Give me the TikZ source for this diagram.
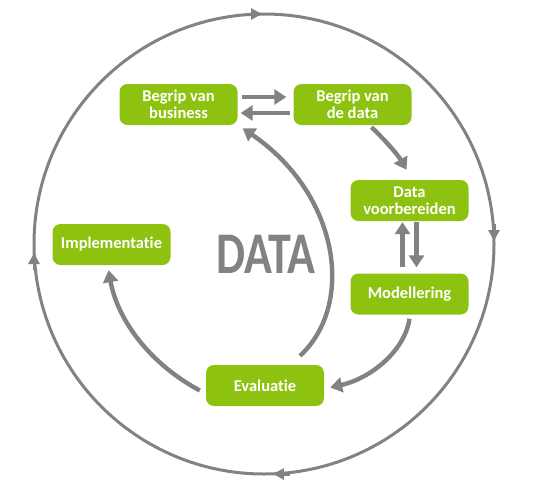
\documentclass[tikz,border=0pt]{standalone}
\usepackage{fontspec}
\usepackage{graphicx}
\setmainfont{Carlito}[Ligatures=NoCommon]
\usetikzlibrary{arrows.meta}
\definecolor{leaf}{RGB}{141,194,16}
\definecolor{arrgray}{RGB}{130,130,130}
\begin{document}
\begin{tikzpicture}[x=1pt,y=-1pt,
  phase/.style={rounded corners=8pt, fill=leaf, text=white, font=\bfseries\fontsize{16.5}{17.5}\selectfont,
    minimum width=118pt, minimum height=41pt, align=center, inner sep=0pt},
  flow/.style={draw=arrgray, line width=4.4pt, -{Triangle[length=12pt,width=15pt]}},
  ring/.style={draw=arrgray, line width=3pt},
  ringtip/.style={draw=arrgray, line width=3pt, -{Triangle[length=11pt,width=11pt]}}]
\useasboundingbox (0,0) rectangle (535,499);
% outer cycle
\draw[ring] (264,244) circle (230);
\coordinate (t1) at (246,14); \coordinate (t2) at (262,14);
\coordinate (r1) at (494,224); \coordinate (r2) at (494,241);
\coordinate (b1) at (290,474); \coordinate (b2) at (273,474);
\coordinate (l1) at (34,270); \coordinate (l2) at (34,253);
\draw[ringtip] (t1) -- (t2);
\draw[ringtip] (r1) -- (r2);
\draw[ringtip] (b1) -- (b2);
\draw[ringtip] (l1) -- (l2);
% nodes
\node[phase] (bus) at (178.5,104.5) {Begrip van\\business};
\node[phase] (dat) at (352.5,104.5) {Begrip van\\de data};
\node[phase] (prep) at (409.5,200.5) {Data\\voorbereiden};
\node[phase] (mod) at (409.5,294) {Modellering};
\node[phase] (eval) at (265,385.5) {Evaluatie};
\node[phase] (impl) at (111.5,244.5) {Implementatie};
\node[text=arrgray, font=\bfseries\fontsize{59}{60}\selectfont, inner sep=0pt] (data) at (266,254) {\scalebox{0.78}[1]{DATA}};
% connectors
\draw[flow] ([xshift=4pt,yshift=7.5pt]bus.east) -- ([xshift=-7pt,yshift=7.5pt]dat.west);
\draw[flow] ([xshift=-3pt,yshift=-8.5pt]dat.west) -- ([xshift=3pt,yshift=-8.5pt]bus.east);
\draw[flow] ([xshift=19pt,yshift=-2pt]dat.south) .. controls (385,140) and (398,155) .. ([xshift=-3pt,yshift=10pt]prep.north);
\draw[flow] ([xshift=-7pt,yshift=6pt]mod.north) -- ([xshift=-7pt,yshift=-1pt]prep.south);
\draw[flow] ([xshift=7pt,yshift=-1pt]prep.south) -- ([xshift=7pt,yshift=6pt]mod.north);
\draw[flow] ([xshift=0pt,yshift=-4pt]mod.south) .. controls (405,350) and (372,378) .. ([xshift=6pt,yshift=-2pt]eval.east);
\draw[flow] ([xshift=35pt,yshift=9pt]eval.north) .. controls (355,305) and (340,195) .. ([xshift=5pt,yshift=-3pt]bus.south east);
\draw[flow] ([xshift=-6pt,yshift=-5pt]eval.west) .. controls (152,365) and (118,322) .. ([xshift=-3pt,yshift=-5pt]impl.south);
\end{tikzpicture}
\end{document}
